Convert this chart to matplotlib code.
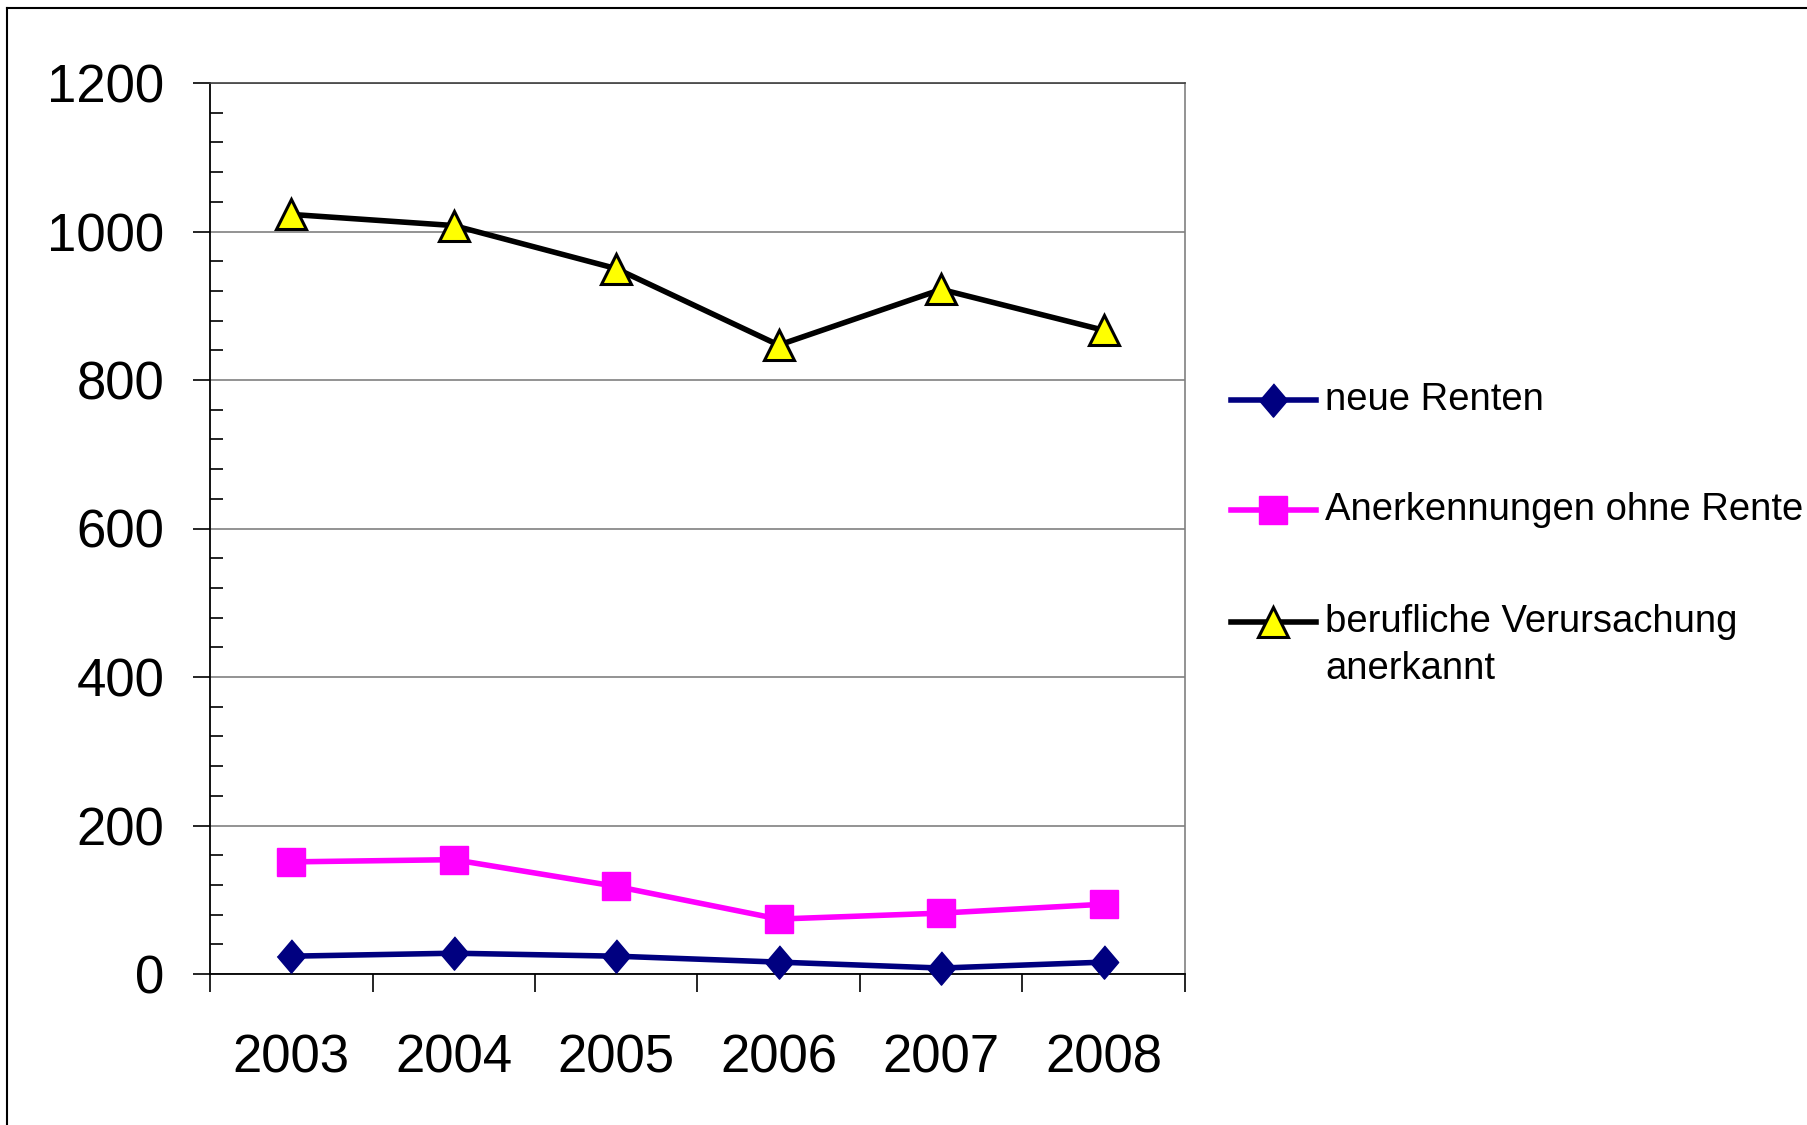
import matplotlib
matplotlib.use('Agg')
import matplotlib.pyplot as plt
from matplotlib.lines import Line2D
import numpy as np

plt.rcParams['font.family'] = ['Liberation Sans', 'DejaVu Sans']

# Daten
jahre = ['2003', '2004', '2005', '2006', '2007', '2008']
neue_renten = [24, 28, 24, 16, 8, 16]
anerkennungen_ohne_rente = [151, 154, 118, 74, 82, 94]
berufliche_verursachung = [1023, 1008, 950, 847, 922, 867]

namen = ['neue Renten', 'Anerkennungen ohne Rente',
         'berufliche Verursachung\nanerkannt']

raute = [(0, 1), (0.85, 0), (0, -1), (-0.85, 0)]
stile = [
    dict(color='#000080', lw=4, marker=raute, ms=24, mfc='#000080', mec='#000080'),
    dict(color='#FF00FF', lw=4, marker='s', ms=20, mfc='#FF00FF', mec='#FF00FF'),
    dict(color='black', lw=4, marker='^', ms=22, mfc='#FFFF00', mec='black', mew=2.2),
]

W, H = 1807, 1125
fig = plt.figure(figsize=(W / 100, H / 100), dpi=100)
ax = fig.add_axes([210 / W, 1 - 974 / H, (1185 - 210) / W, (974 - 83) / H])

x = np.arange(len(jahre))
for werte, st in zip([neue_renten, anerkennungen_ohne_rente, berufliche_verursachung], stile):
    ax.plot(x, werte, clip_on=False, zorder=3, **st)

ax.set_xlim(-0.5, len(jahre) - 0.5)
ax.set_ylim(0, 1200)

# x-Achse: Striche zwischen den Kategorien, Beschriftung in der Mitte
ax.set_xticks(np.arange(-0.5, len(jahre), 1))
ax.set_xticklabels([])
ax.set_xticks(x, minor=True)
ax.set_xticklabels(jahre, minor=True)
ax.tick_params(axis='x', which='major', direction='out', length=13, width=1.2)
ax.tick_params(axis='x', which='minor', length=0, labelsize=38, pad=43)

# y-Achse
ax.set_yticks(np.arange(0, 1201, 200))
ax.set_yticks(np.arange(0, 1201, 40), minor=True)
ax.tick_params(axis='y', which='major', direction='out', length=12, width=1.2,
               labelsize=38, pad=21)
ax.tick_params(axis='y', which='minor', direction='in', length=9, width=1.2)
ax.yaxis.grid(True, color='#808080', lw=1.2)
ax.set_axisbelow(True)

for s in ['left', 'bottom']:
    ax.spines[s].set_color('black')
    ax.spines[s].set_linewidth(1.3)
ax.spines['top'].set_color('#404040')
ax.spines['right'].set_color('#808080')
ax.spines['top'].set_linewidth(1.2)
ax.spines['right'].set_linewidth(1.2)

# Legende von Hand
zeilen_y = [400, 510, 622]
for name, st, zy in zip(namen, stile, zeilen_y):
    yf = 1 - zy / H
    ls = {k: v for k, v in st.items() if k not in ('marker', 'ms', 'mfc', 'mec', 'mew')}
    fig.add_artist(Line2D([1231 / W, 1316 / W], [yf, yf], transform=fig.transFigure, **ls))
    fig.add_artist(Line2D([1273 / W], [yf], transform=fig.transFigure, ls='none',
                          marker=st['marker'], ms=st['ms'], mfc=st['mfc'],
                          mec=st['mec'], mew=st.get('mew', 1)))
    fig.text(1325 / W, 1 - (zy - 18) / H, name, fontsize=27.5, va='top', ha='left',
             linespacing=1.4)

# Rahmen um das Bild (rechts und unten abgeschnitten)
fig.add_artist(Line2D([7 / W, 1], [1 - 8 / H, 1 - 8 / H], transform=fig.transFigure,
                      color='black', lw=1.5))
fig.add_artist(Line2D([7 / W, 7 / W], [0, 1 - 8 / H], transform=fig.transFigure,
                      color='black', lw=1.5))

fig.savefig('out.png', dpi=100)
